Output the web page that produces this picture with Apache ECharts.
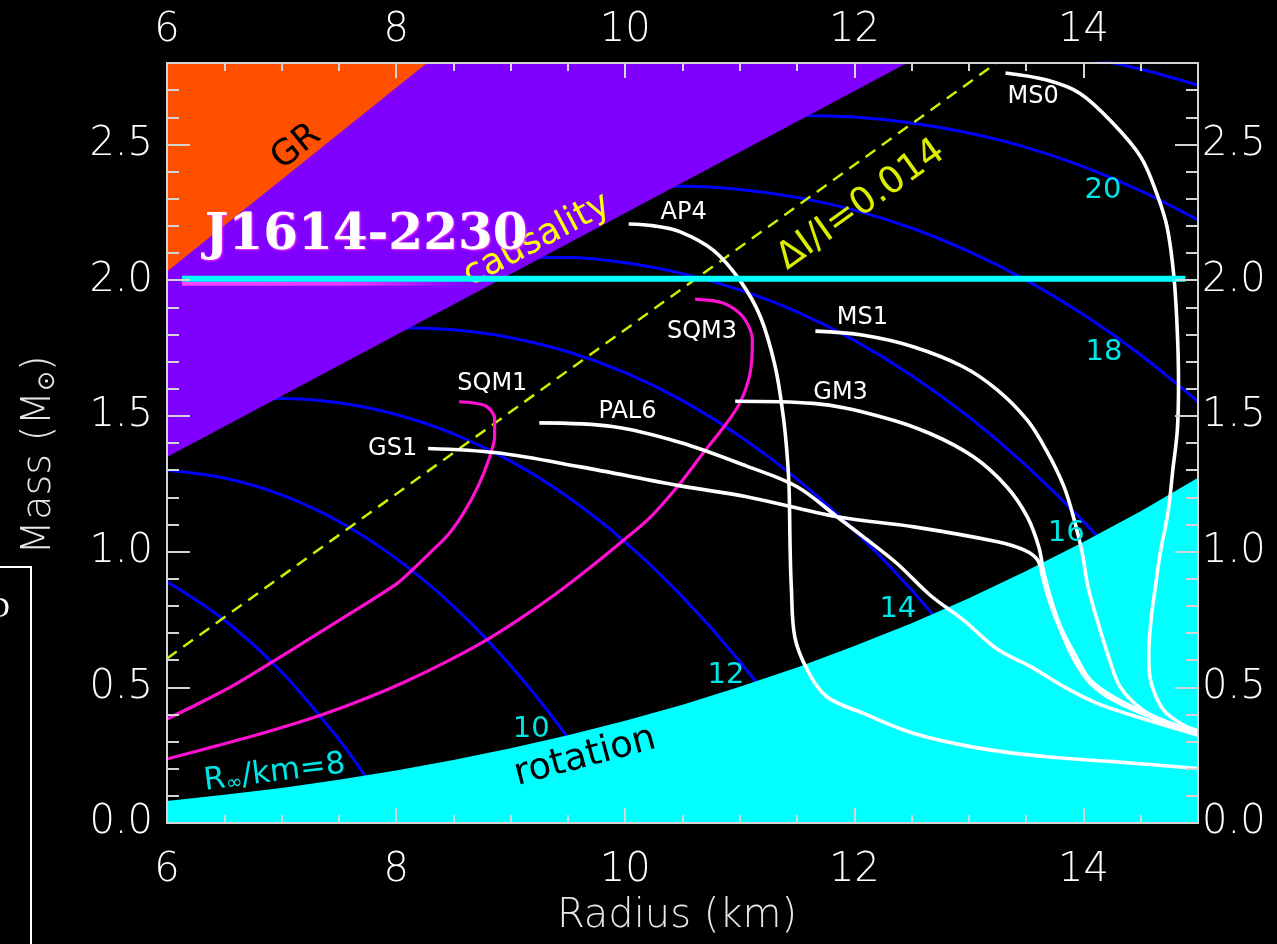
<!DOCTYPE html>
<html><head><meta charset="utf-8">
<script src="https://cdn.jsdelivr.net/npm/echarts@6/dist/echarts.min.js"></script>
<style>html,body{margin:0;padding:0;background:#000;}#c{width:1277px;height:944px;}</style>
</head><body><div id="c"></div>
<script>
// ---------------- data (radius km, mass Msun) ----------------
const xTicks = [6, 8, 10, 12, 14];
const yTicks = [0.0, 0.5, 1.0, 1.5, 2.0, 2.5];

const grLimit   = [[6, 2.032], [8.27, 2.8]];
const causality = [[6, 1.348], [12.46, 2.8]];
const rotation  = [[6,0.081],[6.5,0.104],[7,0.129],[7.5,0.159],[8,0.193],[8.5,0.232],[9,0.275],[9.5,0.323],[10,0.377],[10.5,0.436],[11,0.502],[11.5,0.573],[12,0.652],[12.5,0.736],[13,0.828],[13.5,0.928],[14,1.035],[14.5,1.149],[15,1.272]];
const dIoverI   = [[6, 0.606], [13.24, 2.8]];
const j1614     = [[6.13, 2.005], [14.89, 2.005]];
const j1614Glow = [[6.13, 1.987], [8.6, 1.987]];

const rinf8  = [[6,0.889],[6.5,0.748],[7,0.556],[7.5,0.308],[7.75,0.161],[8,0]];
const rinf10 = [[6,1.300],[6.5,1.271],[7,1.209],[7.5,1.111],[8,0.975],[8.5,0.799],[9,0.579],[9.5,0.314],[10,0]];
const rinf12 = [[6,1.524],[6.5,1.555],[7,1.564],[7.5,1.548],[8,1.505],[8.5,1.434],[9,1.333],[9.5,1.201],[10,1.035],[10.5,0.833],[11,0.595],[11.5,0.318],[12,0]];
const rinf14 = [[6,1.659],[7,1.778],[8,1.825],[8.5,1.817],[9,1.788],[9.5,1.736],[10,1.659],[10.5,1.556],[11,1.425],[11.5,1.267],[12,1.078],[12.5,0.858],[13,0.607],[13.5,0.321],[14,0]];
const rinf16 = [[6,1.746],[7,1.917],[8,2.032],[9,2.083],[9.5,2.083],[10,2.064],[10.5,2.024],[11,1.964],[11.5,1.883],[12,1.778],[12.5,1.649],[13,1.496],[13.5,1.317],[14,1.111],[14.5,0.877],[15,0.615]];
const rinf18 = [[6,1.806],[8,2.174],[9,2.286],[9.5,2.321],[10,2.341],[10.5,2.346],[11,2.334],[11.5,2.305],[12,2.258],[12.5,2.192],[13,2.106],[13.5,2.000],[14,1.873],[14.5,1.724],[15,1.552]];
const rinf20 = [[6,1.849],[8,2.276],[9,2.431],[10,2.540],[10.5,2.576],[11,2.598],[11.5,2.607],[12,2.601],[12.5,2.579],[13,2.542],[13.5,2.489],[14,2.418],[14.5,2.329],[15,2.222]];
const rinf22 = [[12,2.855],[13,2.865],[13.5,2.850],[14,2.821],[14.5,2.777],[15,2.718]];

const ms0  = [[13.32,2.763],[13.68,2.737],[13.97,2.688],[14.26,2.577],[14.50,2.454],[14.64,2.319],[14.73,2.196],[14.79,2.012],[14.82,1.804],[14.83,1.620],[14.82,1.450],[14.78,1.300],[14.74,1.150],[14.67,0.993],[14.62,0.847],[14.59,0.748],[14.57,0.620],[14.58,0.540],[14.62,0.479],[14.70,0.416],[14.80,0.380],[14.90,0.355],[15.0,0.340]];
const ap4  = [[10.03,2.207],[10.25,2.200],[10.48,2.178],[10.77,2.110],[11.00,2.000],[11.18,1.865],[11.31,1.680],[11.38,1.497],[11.41,1.374],[11.43,1.239],[11.44,1.000],[11.45,0.870],[11.48,0.686],[11.59,0.564],[11.76,0.465],[12.08,0.404],[12.52,0.330],[13.10,0.275],[13.68,0.244],[14.26,0.226],[15.0,0.201]];
const ms1  = [[11.66,1.812],[12.08,1.797],[12.52,1.754],[12.95,1.681],[13.25,1.595],[13.51,1.484],[13.68,1.370],[13.83,1.239],[13.92,1.116],[13.99,0.994],[14.04,0.870],[14.12,0.748],[14.21,0.625],[14.32,0.502],[14.52,0.416],[14.76,0.368],[15.0,0.336]];
const gm3  = [[10.96,1.554],[11.64,1.546],[12.23,1.497],[12.66,1.435],[13.04,1.349],[13.33,1.239],[13.51,1.128],[13.61,1.018],[13.65,0.932],[13.71,0.834],[13.80,0.723],[13.92,0.625],[14.06,0.527],[14.26,0.465],[14.61,0.392],[15.0,0.330]];
const pal6 = [[9.25,1.474],[9.90,1.460],[10.48,1.402],[11.06,1.315],[11.50,1.239],[11.85,1.128],[12.08,1.054],[12.37,0.957],[12.66,0.840],[12.95,0.748],[13.25,0.640],[13.54,0.576],[13.83,0.502],[14.12,0.441],[14.56,0.379],[15.0,0.324]];
const gs1  = [[8.28,1.380],[8.88,1.364],[9.61,1.312],[10.48,1.242],[11.06,1.202],[11.85,1.128],[12.52,1.091],[13.25,1.036],[13.48,1.006],[13.60,0.969],[13.65,0.895],[13.71,0.809],[13.80,0.711],[13.92,0.600],[14.06,0.515],[14.26,0.453],[14.61,0.386],[15.0,0.324]];
const sqm1 = [[8.55,1.552],[8.78,1.537],[8.86,1.490],[8.86,1.425],[8.81,1.340],[8.72,1.245],[8.60,1.150],[8.46,1.065],[8.30,0.997],[8.14,0.932],[8.01,0.883],[7.60,0.772],[7.25,0.680],[6.93,0.596],[6.58,0.507],[6.29,0.443],[6.0,0.383]];
const sqm3 = [[10.61,1.930],[10.86,1.915],[11.03,1.864],[11.11,1.779],[11.09,1.657],[11.00,1.547],[10.86,1.459],[10.68,1.363],[10.48,1.252],[10.22,1.127],[9.98,1.040],[9.68,0.937],[9.38,0.840],[9.08,0.752],[8.78,0.672],[8.42,0.590],[8.06,0.517],[7.70,0.453],[7.34,0.397],[6.90,0.339],[6.44,0.285],[6.0,0.236]];

// ---------------- annotations (text, anchor in data coords) ----------------
const curveLabels = [
  ['MS0', 13.56, 2.674], ['AP4', 10.51, 2.247], ['SQM3', 10.67, 1.808], ['MS1', 12.07, 1.860],
  ['SQM1', 8.84, 1.617], ['PAL6', 10.02, 1.514], ['GM3', 11.88, 1.584], ['GS1', 7.97, 1.378]
];
const contourLabels = [
  ['20', 14.17, 2.331], ['18', 14.18, 1.735], ['16', 13.85, 1.068],
  ['14', 12.38, 0.788], ['12', 10.88, 0.545], ['10', 9.18, 0.346]
];

// ---------------- chart ----------------
const chart = echarts.init(document.getElementById('c'), null, {renderer: 'canvas', width: 1277, height: 944});
const FONT = 'DejaVu Sans';
const AX = '#d4d4d4';
const LIGHT = 200;

function fmtX(v) { return xTicks.indexOf(v) >= 0 ? String(v) : ''; }
function fmtY(v) { return yTicks.some(t => Math.abs(t - v) < 1e-6) ? v.toFixed(1) : ''; }

function xAxisDef(pos, major) {
  return {
    type: 'value', position: pos, min: 6, max: 15, interval: major ? 2 : 0.5, z: 20,
    axisLine: {show: major, onZero: false, lineStyle: {color: AX, width: 2}},
    axisTick: {show: true, inside: true, length: major ? 15 : 8, lineStyle: {color: AX, width: 2}},
    axisLabel: {show: major, color: '#ffffff', fontFamily: FONT, fontWeight: LIGHT, fontSize: 40,
      margin: pos === 'bottom' ? 28 : 12, formatter: fmtX},
    splitLine: {show: false}
  };
}
function yAxisDef(pos, major) {
  return {
    type: 'value', position: pos, min: 0, max: 2.8, interval: major ? 0.5 : 0.1, z: 20,
    axisLine: {show: major, onZero: false, lineStyle: {color: AX, width: 2}},
    axisTick: {show: true, inside: true, length: major ? 23 : 12, lineStyle: {color: AX, width: 2}},
    axisLabel: {show: major, color: '#ffffff', fontFamily: FONT, fontWeight: LIGHT, fontSize: 40,
      margin: pos === 'left' ? 14 : 4, formatter: fmtY},
    splitLine: {show: false}
  };
}

function lineSeries(data, color, width, z, extra) {
  return Object.assign({
    type: 'line', data: data, xAxisIndex: 0, yAxisIndex: 0, symbol: 'none', showSymbol: false,
    smooth: 0.35, silent: true, z: z, clip: true,
    lineStyle: {color: color, width: width}
  }, extra || {});
}
function areaSeries(data, color, origin, z) {
  return {
    type: 'line', data: data, xAxisIndex: 0, yAxisIndex: 0, symbol: 'none', showSymbol: false,
    smooth: false, silent: true, z: z, clip: true,
    lineStyle: {width: 0, color: color},
    areaStyle: {color: color, opacity: 1, origin: origin}
  };
}

const BLUE = '#0000ff', MAG = '#ff10d0', WHITE = '#ffffff';
const contours = [rinf8, rinf10, rinf12, rinf14, rinf16, rinf18, rinf20, rinf22];
const whites = [ms0, ap4, ms1, gm3, pal6, gs1];

const series = [];
contours.forEach(c => series.push(lineSeries(c, BLUE, 3, 2)));
series.push(areaSeries(causality, '#8000ff', 'end', 3));
series.push(areaSeries(grLimit, '#ff5000', 'end', 4));
series.push(areaSeries(rotation, '#00ffff', 'start', 3));
series.push(lineSeries(dIoverI, '#c8f000', 2, 5, {smooth: false, lineStyle: {color: '#c8f000', width: 2.5, type: [12, 8]}}));
[sqm1, sqm3].forEach(c => series.push(lineSeries(c, MAG, 3.2, 6, {smooth: 0.3})));
whites.forEach(c => series.push(lineSeries(c, WHITE, 3.6, 7)));
series.push(lineSeries(j1614Glow, '#ff40ff', 4, 8, {smooth: false, lineStyle: {width: 4,
  color: new echarts.graphic.LinearGradient(0, 0, 1, 0, [
    {offset: 0, color: 'rgba(255,70,255,1)'}, {offset: 0.6, color: 'rgba(255,70,255,0.8)'}, {offset: 1, color: 'rgba(255,70,255,0)'}])}}));
series.push(lineSeries(j1614, '#00ffff', 6, 9, {smooth: false}));

chart.setOption({
  backgroundColor: '#000000',
  animation: false,
  grid: {left: 167, right: 79, top: 63, bottom: 121, containLabel: false},
  xAxis: [xAxisDef('bottom', true), xAxisDef('bottom', false), xAxisDef('top', true), xAxisDef('top', false)],
  yAxis: [yAxisDef('left', true), yAxisDef('left', false), yAxisDef('right', true), yAxisDef('right', false)],
  series: series
});

function px(r, m) { return chart.convertToPixel({xAxisIndex: 0, yAxisIndex: 0}, [r, m]); }
function txt(text, r, m, opts) {
  const p = px(r, m);
  const o = opts || {};
  return {
    type: 'text', x: p[0], y: p[1], rotation: (o.rot || 0) * Math.PI / 180, z: o.z || 30, silent: true,
    style: Object.assign({
      text: text, fill: o.color || '#fff', fontFamily: o.family || FONT, fontSize: o.size || 24,
      fontWeight: o.weight || 'normal',
      align: o.align || 'center', verticalAlign: 'middle',
      textAlign: o.align || 'center', textVerticalAlign: 'middle'
    }, o.style || {})
  };
}

const graphics = [];
curveLabels.forEach(l => graphics.push(txt(l[0], l[1], l[2], {size: 24, color: '#ffffff'})));
contourLabels.forEach(l => graphics.push(txt(l[0], l[1], l[2], {size: 29, color: '#00e6e6'})));
graphics.push(txt('R{s|∞}/km=8', 6.94, 0.184, {size: 31, color: '#00e6e6', rot: 7,
  style: {rich: {s: {fontSize: 20, fill: '#00e6e6', fontFamily: FONT, verticalAlign: 'bottom', padding: [10, 0, 0, 0]}}}}));
graphics.push(txt('rotation', 9.65, 0.243, {size: 37, color: '#000000', rot: 15}));
graphics.push(txt('GR', 7.13, 2.49, {size: 35, color: '#000000', rot: 38.8}));
graphics.push(txt('causality', 9.23, 2.147, {size: 36, color: '#ffff00', rot: 28, z: 8.5}));
graphics.push(txt('ΔI/I=0.014', 12.06, 2.276, {size: 37, color: '#dcee00', rot: 35.7}));
graphics.push(txt('J1614-2230', 6.33, 2.162, {size: 50, color: '#ffffff', family: 'DejaVu Serif', weight: 'bold',
  align: 'left', z: 40, style: {textShadowColor: '#ff30ff', textShadowBlur: 2, textShadowOffsetX: 1, textShadowOffsetY: 1}}));

// axis titles
graphics.push({type: 'text', x: 677, y: 917, z: 30, silent: true,
  style: {text: 'Radius (km)', fill: '#e6e6e6', fontFamily: FONT, fontWeight: LIGHT, fontSize: 40,
    align: 'center', verticalAlign: 'middle', textAlign: 'center', textVerticalAlign: 'middle'}});
graphics.push({type: 'text', x: 40, y: 455, rotation: Math.PI / 2, z: 30, silent: true,
  style: {text: 'Mass (M{s|⊙})', fill: '#e6e6e6', fontFamily: FONT, fontWeight: LIGHT, fontSize: 40,
    align: 'center', verticalAlign: 'middle', textAlign: 'center', textVerticalAlign: 'middle',
    rich: {s: {fontSize: 24, fill: '#e6e6e6', fontFamily: FONT, verticalAlign: 'bottom', padding: [14, 0, 0, 0]}}}});

// partial frame of a neighbouring panel at the left edge
graphics.push({type: 'rect', z: 30, silent: true, shape: {x: -5, y: 567, width: 36, height: 400},
  style: {fill: 'none', stroke: '#ffffff', lineWidth: 2}});
graphics.push({type: 'text', x: -12, y: 609, z: 30, silent: true,
  style: {text: 'D', fill: '#ffffff', fontFamily: 'Liberation Serif', fontSize: 30,
    align: 'left', verticalAlign: 'middle', textAlign: 'left', textVerticalAlign: 'middle'}});

chart.setOption({graphic: {elements: graphics}});
</script>
</body></html>
